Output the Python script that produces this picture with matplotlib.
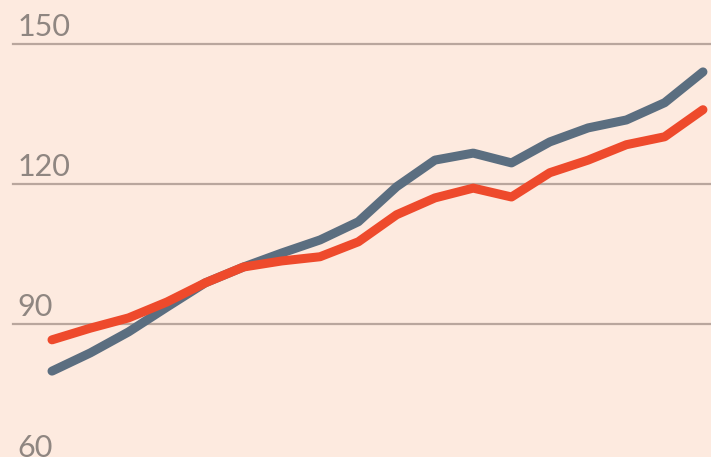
import numpy as np
import matplotlib.pyplot as plt

# data (18 yearly points)
grey_vals = [79.9, 83.8, 88.3, 93.6, 98.8, 102.2, 105.2, 108.0, 111.9, 119.4,
             125.1, 126.6, 124.5, 129.0, 132.0, 133.7, 137.4, 144.0]
red_vals = [86.6, 89.1, 91.3, 94.7, 98.8, 102.2, 103.5, 104.4, 107.6, 113.4,
            117.0, 119.1, 117.2, 122.4, 125.1, 128.4, 130.1, 135.9]
yticks = [60, 90, 120, 150]

x = np.arange(len(grey_vals))

bg = '#fdeadf'
fig = plt.figure(figsize=(7.11, 4.57), dpi=100, facecolor=bg)
ax = fig.add_axes([0, 0, 1, 1], facecolor=bg)

for t in yticks:
    ax.axhline(t, xmin=0.018, xmax=1, color='#b9a69d', linewidth=1.6, zorder=1)
    ax.text(0.024, t + 1.6, str(t), transform=ax.get_yaxis_transform(),
            fontsize=22, color='#8f8681', family='Lato', va='baseline')

ax.plot(x, grey_vals, color='#5b6e80', linewidth=6.5, solid_capstyle='round',
        solid_joinstyle='round', zorder=3)
ax.plot(x, red_vals, color='#ee4a2c', linewidth=6.5, solid_capstyle='round',
        solid_joinstyle='round', zorder=4)

ax.set_xlim(-1.358, 17.21)
ax.set_ylim(61.5, 159.4)
ax.axis('off')

plt.savefig('out.png', dpi=100, facecolor=bg)
